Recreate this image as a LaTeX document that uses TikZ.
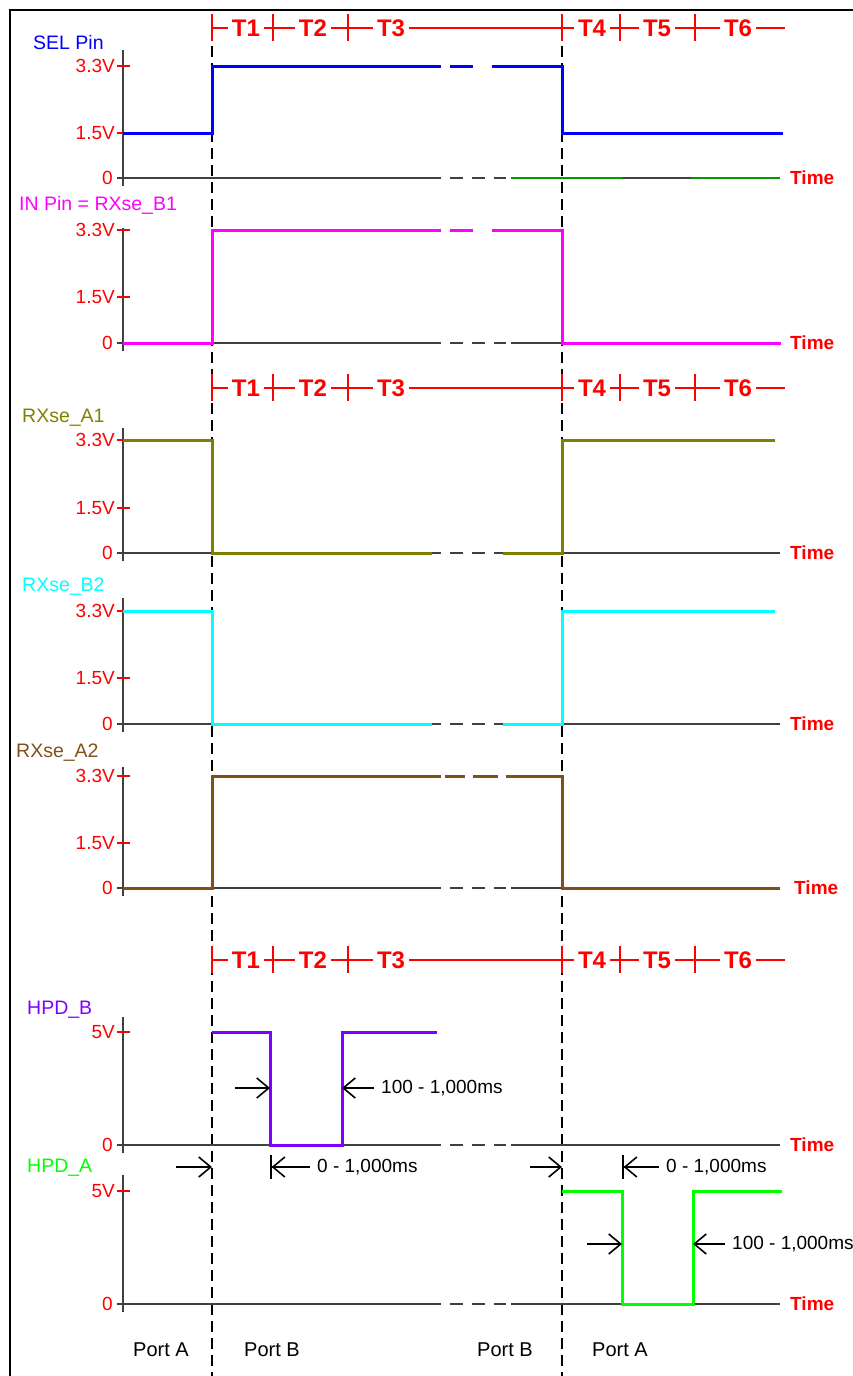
\documentclass[tikz,border=0pt]{standalone}
\usepackage{fontspec}
\setmainfont{Liberation Sans}
\usepackage{tikz}
\usetikzlibrary{arrows.meta}
\definecolor{selblue}{HTML}{0000FF}
\definecolor{inmag}{HTML}{FF00FF}
\definecolor{aolive}{HTML}{808000}
\definecolor{bcyan}{HTML}{00FFFF}
\definecolor{abrown}{HTML}{80501A}
\definecolor{hpdpurple}{HTML}{8000FF}
\definecolor{hpdgreen}{HTML}{00FF00}
\definecolor{axgreen}{HTML}{009900}

\begin{document}
\begin{tikzpicture}[x=1pt, y=-1pt,
    sig/.style={line width=3pt, line join=miter},
    axisline/.style={draw=black!75, line width=1.2pt},
    tickmark/.style={red, line width=1.2pt},
    ticklbl/.style={red, anchor=east, inner sep=1pt, font=\fontsize{19}{21}\selectfont},
    signame/.style={anchor=west, inner sep=0pt, font=\fontsize{19.5}{21}\selectfont},
    timelbl/.style={red, anchor=west, inner sep=0pt, font=\bfseries\fontsize{19}{21}\selectfont},
    barline/.style={red, line width=1.6pt},
    tlbl/.style={red, fill=white, inner xsep=4pt, inner ysep=1pt, font=\bfseries\fontsize{24}{26}\selectfont},
    portdiv/.style={black, line width=1.8pt, dash pattern=on 11pt off 6pt},
    dimarrow/.style={black, line width=1.6pt, -{Straight Barb[length=12pt,width=20pt]}},
    dimbar/.style={black, line width=1.6pt, -{Straight Barb[length=12pt,width=20pt]Bar[width=24pt]}},
    dimlbl/.style={anchor=west, inner xsep=7pt, inner ysep=1pt, font=\fontsize{19}{21}\selectfont},
    portlbl/.style={font=\fontsize{20}{22}\selectfont}]

    \useasboundingbox (0,0) rectangle (853,1376);
    % frame
    \draw[line width=2.5pt] (10,1376) -- (10,10) -- (853,10);

    % port change lines
    \draw[portdiv] (212,46) -- (212,1376);
    \draw[portdiv] (562,46) -- (562,1376);

    % --- axes ------------------------------------------------------------
    \foreach \ytop/\yzero in {50/178, 228/343, 428/553, 598/724, 767/888, 1017/1145, 1175/1304} {
      \draw[axisline] (123,\ytop) -- (123,\yzero+8);
      \draw[axisline] (117,\yzero) -- (441,\yzero);
      \draw[axisline, dash pattern=on 13pt off 9pt] (450,\yzero) -- (506,\yzero);
      \draw[axisline] (511,\yzero) -- (780,\yzero);
      \node[ticklbl] (zero-\yzero) at (114,\yzero) {0};
    }
    \draw[axgreen, line width=1.2pt] (511,178) -- (623,178) (691,178) -- (780,178);
    \foreach \yy/\vv in {66/3.3V, 133/1.5V, 230/3.3V, 297/1.5V, 440/3.3V, 508/1.5V,
                         611/3.3V, 678/1.5V, 776/3.3V, 843/1.5V, 1032/5V, 1191/5V} {
      \draw[tickmark] (117,\yy) -- (130,\yy);
      \node[ticklbl] (lvl-\yy) at (116,\yy) {\vv};
    }

    % time labels
    \node[timelbl] (time1) at (790,178) {Time};
    \node[timelbl] (time2) at (790,343) {Time};
    \node[timelbl] (time3) at (790,553) {Time};
    \node[timelbl] (time4) at (790,724) {Time};
    \node[timelbl] (time5) at (794,888) {Time};
    \node[timelbl] (time6) at (790,1145) {Time};
    \node[timelbl] (time7) at (790,1304) {Time};

    % signal names
    \node[signame, selblue] (selname) at (33,43) {SEL Pin};
    \node[signame, inmag] (inname) at (19,205) {IN Pin = RXse\_B1};
    \node[signame, aolive] (aname) at (22,418) {RXse\_A1};
    \node[signame, bcyan] (bname) at (22,587) {RXse\_B2};
    \node[signame, abrown] (atwoname) at (16,753) {RXse\_A2};
    \node[signame, hpdpurple] (hpdbname) at (27,1010) {HPD\_B};
    \node[signame, hpdgreen] (hpdaname) at (27,1168) {HPD\_A};

    % --- waveforms -------------------------------------------------------
    % SEL
    \draw[sig, selblue] (123,133) -- (212,133) -- (212,66) -- (441,66);
    \draw[sig, selblue] (450,66) -- (473,66);
    \draw[sig, selblue] (492,66) -- (562,66) -- (562,133) -- (783,133);
    % IN = RXse_B1
    \draw[sig, inmag] (123,343) -- (212,343) -- (212,230) -- (441,230);
    \draw[sig, inmag] (450,230) -- (473,230);
    \draw[sig, inmag] (492,230) -- (562,230) -- (562,343) -- (781,343);
    % RXse_A1
    \draw[sig, aolive] (123,440) -- (212,440) -- (212,553) -- (432,553);
    \draw[sig, aolive] (503,553) -- (562,553) -- (562,440) -- (775,440);
    % RXse_B2
    \draw[sig, bcyan] (123,611) -- (212,611) -- (212,724) -- (432,724);
    \draw[sig, bcyan] (503,724) -- (562,724) -- (562,611) -- (775,611);
    % RXse_A2
    \draw[sig, abrown] (123,888) -- (212,888) -- (212,776) -- (441,776);
    \draw[sig, abrown] (445,776) -- (465,776) (473,776) -- (498,776);
    \draw[sig, abrown] (506,776) -- (562,776) -- (562,888) -- (780,888);
    % HPD_B
    \draw[sig, hpdpurple] (212,1032) -- (270,1032) -- (270,1145) -- (342,1145) -- (342,1032) -- (437,1032);
    % HPD_A
    \draw[sig, hpdgreen] (562,1191) -- (622,1191) -- (622,1304) -- (693,1304) -- (693,1191) -- (782,1191);

    % --- phase bars ------------------------------------------------------
    \foreach \yb in {28, 388, 960} {
      \draw[barline] (212,\yb) -- (785,\yb);
      \foreach \xt in {212, 273, 348, 562, 620, 695}
        \draw[barline] (\xt,\yb-14) -- (\xt,\yb+13);
      \foreach \xl/\tl in {246/T1, 313/T2, 391/T3, 592/T4, 657/T5, 738/T6}
        \node[tlbl] (\tl-\yb) at (\xl,\yb) {\tl};
    }

    % --- HPD timing ------------------------------------------------------
    \coordinate (hbfall) at (270,1088);
    \coordinate (hbtail) at (235,1088);
    \coordinate (hbrise) at (342,1088);
    \node[dimlbl] (hbwidth) at (374,1088) {100 - 1,000ms};
    \draw[dimarrow] (hbtail) -- (hbfall);
    \draw[dimarrow] (hbwidth.west) -- (hbrise);

    \coordinate (swb) at (212,1167);
    \coordinate (swbtail) at (176,1167);
    \coordinate (hbdrop) at (270,1167);
    \node[dimlbl] (hbdelay) at (310,1167) {0 - 1,000ms};
    \draw[dimarrow] (swbtail) -- (swb);
    \draw[dimbar] (hbdelay.west) -- (hbdrop);

    \coordinate (swa) at (562,1167);
    \coordinate (swatail) at (530,1167);
    \coordinate (hadrop) at (622,1167);
    \node[dimlbl] (hadelay) at (659,1167) {0 - 1,000ms};
    \draw[dimarrow] (swatail) -- (swa);
    \draw[dimbar] (hadelay.west) -- (hadrop);

    \coordinate (hafall) at (622,1244);
    \coordinate (hatail) at (587,1244);
    \coordinate (harise) at (693,1244);
    \node[dimlbl] (hawidth) at (725,1244) {100 - 1,000ms};
    \draw[dimarrow] (hatail) -- (hafall);
    \draw[dimarrow] (hawidth.west) -- (harise);

    % ports
    \node[portlbl] (porta1) at (161,1350) {Port A};
    \node[portlbl] (portb1) at (272,1350) {Port B};
    \node[portlbl] (portb2) at (505,1350) {Port B};
    \node[portlbl] (porta2) at (620,1350) {Port A};
\end{tikzpicture}
\end{document}
